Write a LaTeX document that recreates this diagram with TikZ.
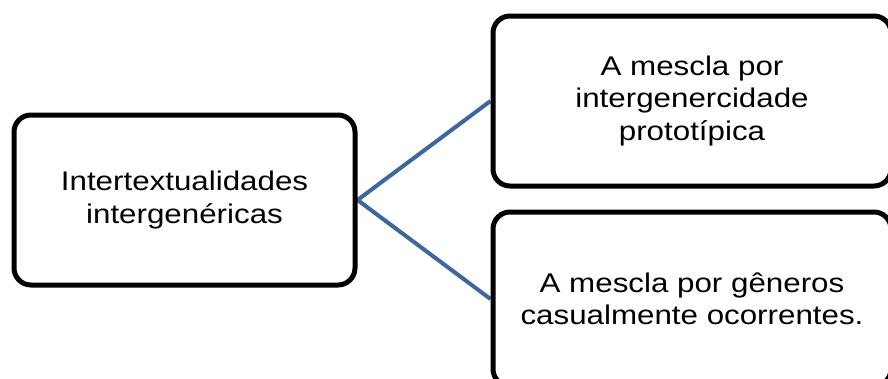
\documentclass[tikz,border=0pt]{standalone}
\usepackage{fontspec}
\setmainfont{Liberation Sans}[FakeStretch=1.16]
\usepackage{tikz}
\usetikzlibrary{backgrounds}
\definecolor{linkblue}{RGB}{61,103,158}

\begin{document}
\begin{tikzpicture}[x=1pt,y=1pt,
		box/.style={draw=black,line width=5pt,rounded corners=17pt,align=center,
			font=\fontsize{27}{32.5}\selectfont,inner sep=0pt},
		link/.style={draw=linkblue,line width=4pt}]
		\clip (0,0) rectangle (888,-378);
		\node[box,minimum width=341pt,minimum height=170pt] (main) at (184.5,-200) {Intertextualidades\\intergenéricas};
		\node[box,minimum width=398pt,minimum height=170pt] (proto) at (692,-101) {A mescla por\\intergenercidade\\prototípica};
		\node[box,minimum width=398pt,minimum height=174pt] (casual) at (692,-299) {A mescla por gêneros\\casualmente ocorrentes.};
		\begin{scope}[on background layer]
			\draw[link] (main.east) -- (proto.west);
			\draw[link] (main.east) -- (casual.west);
		\end{scope}
	\end{tikzpicture}
\end{document}
